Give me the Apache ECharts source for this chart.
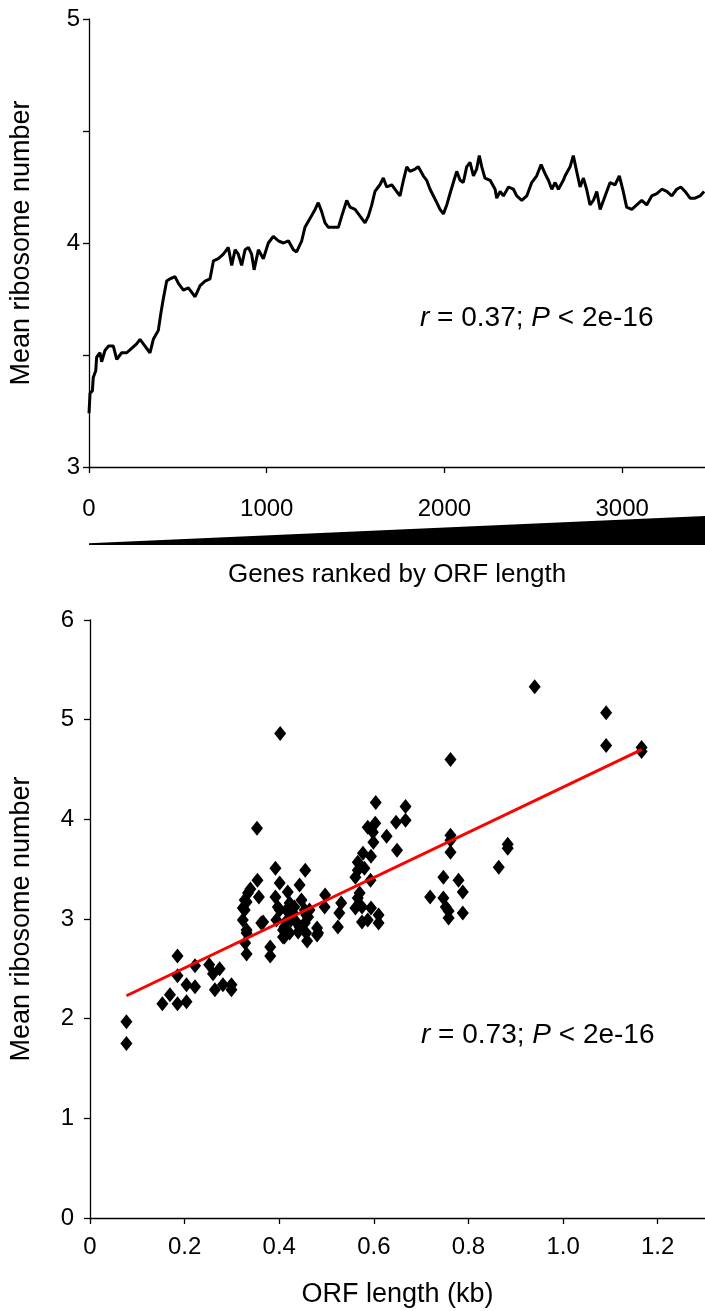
<!DOCTYPE html>
<html>
<head>
<meta charset="utf-8">
<script src="https://cdn.jsdelivr.net/npm/echarts@6/dist/echarts.min.js"></script>
<style>
html,body{margin:0;padding:0;background:#fff;}
#chart{width:705px;height:1311px;}
</style>
</head>
<body>
<div id="chart"></div>
<script>
// ---- Top panel: running mean ribosome number vs gene rank ----
const geneRank = [0,6,19,24,38,43,62,71,90,109,137,156,184,212,240,268,287,315,343,362,390,405,418,437,456,484,503,531,559,597,625,653,681,700,728,756,784,803,822,840,859,878,897,915,929,953,981,1009,1037,1065,1094,1122,1150,1168,1197,1215,1244,1272,1290,1309,1328,1347,1375,1403,1422,1450,1469,1497,1525,1553,1572,1591,1609,1637,1656,1675,1703,1731,1750,1769,1788,1806,1835,1853,1881,1900,1919,1938,1957,1975,1994,2013,2031,2050,2069,2088,2106,2125,2144,2163,2181,2196,2210,2228,2257,2285,2294,2313,2332,2360,2388,2407,2435,2463,2491,2519,2544,2566,2585,2604,2623,2641,2669,2679,2707,2725,2744,2763,2782,2800,2819,2838,2857,2876,2904,2932,2960,2984,3006,3025,3054,3082,3110,3138,3166,3195,3223,3251,3279,3307,3330,3354,3382,3410,3438,3461];
const meanRibo = [3.24,3.33,3.34,3.40,3.43,3.49,3.51,3.47,3.52,3.54,3.54,3.48,3.51,3.51,3.53,3.55,3.57,3.54,3.51,3.57,3.61,3.69,3.75,3.83,3.84,3.85,3.82,3.79,3.80,3.76,3.81,3.83,3.84,3.92,3.93,3.95,3.98,3.90,3.97,3.95,3.90,3.97,3.98,3.95,3.88,3.97,3.93,4.00,4.03,4.01,4.00,4.01,3.97,3.96,4.01,4.07,4.11,4.15,4.18,4.14,4.09,4.07,4.07,4.07,4.12,4.19,4.16,4.15,4.12,4.09,4.12,4.17,4.23,4.26,4.29,4.25,4.26,4.23,4.21,4.28,4.34,4.32,4.33,4.34,4.30,4.28,4.24,4.21,4.18,4.15,4.13,4.17,4.22,4.27,4.32,4.28,4.27,4.34,4.36,4.30,4.33,4.39,4.34,4.29,4.28,4.24,4.20,4.23,4.21,4.25,4.24,4.21,4.19,4.21,4.27,4.30,4.35,4.31,4.28,4.24,4.27,4.24,4.28,4.30,4.34,4.39,4.32,4.25,4.29,4.24,4.17,4.19,4.23,4.15,4.21,4.27,4.26,4.30,4.23,4.16,4.15,4.17,4.19,4.17,4.21,4.22,4.24,4.23,4.21,4.24,4.25,4.23,4.20,4.20,4.21,4.23];
const topXTicks = [0,1000,2000,3000];
const topYTicks = [3,4,5];
// wedge indicating increasing ORF length
const wedgeX = [0, 3466];
const wedgeY = [0.06, 1];

// ---- Bottom panel: scatter ORF length vs mean ribosome number ----
const orfLen = [0.077,0.077,0.185,0.185,0.169,0.153,0.185,0.204,0.204,0.222,0.222,0.252,0.260,0.274,0.264,0.281,0.299,0.299,
0.331,0.328,0.331,0.323,0.331,0.327,0.331,0.334,0.339,0.354,0.357,0.353,0.362,0.366,0.381,0.381,0.392,0.392,0.401,0.402,0.394,0.401,0.408,0.408,0.418,0.422,0.422,0.429,0.436,0.443,0.447,0.440,0.455,0.457,0.464,0.457,0.459,0.480,0.417,
0.497,0.531,0.496,0.527,0.397,0.415,0.432,0.454,0.327,0.323,0.411,0.425,0.443,0.461,0.411,0.480,0.524,
0.940,1.091,1.091,1.166,1.166,0.762,0.604,0.667,0.667,0.647,0.603,0.587,0.598,0.627,0.599,0.649,0.577,0.594,0.566,0.566,0.580,0.561,0.593,0.570,0.566,0.561,0.575,0.594,0.575,0.587,0.610,0.610,
0.457,0.454,0.482,0.762,0.762,0.762,0.747,0.779,0.788,0.719,0.747,0.752,0.758,0.758,0.788,0.864,0.883,0.883];
const ribo = [1.97,1.75,2.63,2.43,2.24,2.15,2.15,2.34,2.17,2.32,2.53,2.54,2.45,2.50,2.29,2.34,2.34,2.29,
2.65,2.76,2.86,2.99,2.89,3.09,3.17,3.26,3.30,3.39,3.22,3.91,2.96,2.97,2.72,2.63,3.51,3.22,3.36,4.86,2.99,3.09,2.89,2.82,3.27,3.16,2.86,3.06,2.97,3.34,3.19,2.87,3.49,3.06,3.09,2.86,2.78,2.91,2.99,
3.24,3.16,3.12,3.06,3.12,3.09,3.12,3.09,3.19,3.11,2.92,2.99,2.92,3.02,2.82,2.84,2.92,
5.33,5.07,4.74,4.72,4.68,4.60,4.17,4.13,3.99,3.97,3.96,3.92,3.87,3.83,3.77,3.69,3.66,3.63,3.57,3.49,3.51,3.42,3.39,3.26,3.21,3.11,3.12,3.11,2.97,2.99,3.04,2.96,
3.04,2.96,2.86,3.84,3.79,3.67,3.42,3.39,3.27,3.22,3.21,3.12,3.08,3.01,3.06,3.52,3.75,3.71];
const fitX = [0.077, 1.166];
const fitY = [2.23, 4.70];
const botXTicks = [0,0.2,0.4,0.6,0.8,1.0,1.2];

const FONT = 'Liberation Sans, Arial, sans-serif';
const axisLineStyle = {color:'#000', width:1.3};

const chart = echarts.init(document.getElementById('chart'), null, {renderer:'canvas'});
const zip = (a,b) => a.map((v,i)=>[v,b[i]]);

const option = {
  animation:false,
  backgroundColor:'#fff',
  grid:[
    {left:89, right:0, top:19, height:448},
    {left:89, right:0, top:516, height:29},
    {left:90, right:0, top:620, height:598}
  ],
  xAxis:[
    {gridIndex:0, type:'value', min:0, max:3466, interval:1000,
     axisLine:{show:true, onZero:false, lineStyle:axisLineStyle},
     axisTick:{show:true, length:6, lineStyle:axisLineStyle},
     axisLabel:{showMaxLabel:false, color:'#000', fontFamily:FONT, fontSize:24, margin:30,
       formatter:v=> topXTicks.includes(v) ? String(v) : ''},
     splitLine:{show:false}},
    {gridIndex:1, type:'value', min:0, max:3466,
     axisLine:{show:false}, axisTick:{show:false}, axisLabel:{show:false}, splitLine:{show:false},
     name:'Genes ranked by ORF length', nameLocation:'middle', nameGap:17,
     nameTextStyle:{color:'#000', fontFamily:FONT, fontSize:26}},
    {gridIndex:2, type:'value', min:0, max:1.3, interval:0.2,
     axisLine:{show:true, onZero:false, lineStyle:axisLineStyle},
     axisTick:{show:true, length:6, lineStyle:axisLineStyle},
     axisLabel:{showMaxLabel:false, color:'#000', fontFamily:FONT, fontSize:24, margin:17,
       formatter:v=>{ const t = botXTicks.find(k=>Math.abs(k-v)<1e-6); return t===undefined ? '' : (t===0 ? '0' : t.toFixed(1)); }},
     splitLine:{show:false},
     name:'ORF length (kb)', nameLocation:'middle', nameGap:63,
     nameTextStyle:{color:'#000', fontFamily:FONT, fontSize:27}}
  ],
  yAxis:[
    {gridIndex:0, type:'value', min:3, max:5, interval:0.5,
     axisLine:{show:true, onZero:false, lineStyle:axisLineStyle},
     axisTick:{show:true, length:6, lineStyle:axisLineStyle},
     axisLabel:{color:'#000', fontFamily:FONT, fontSize:24, margin:9,
       formatter:v=> topYTicks.includes(v) ? String(v) : ''},
     splitLine:{show:false},
     name:'Mean ribosome number', nameLocation:'middle', nameGap:54,
     nameTextStyle:{color:'#000', fontFamily:FONT, fontSize:27}},
    {gridIndex:1, type:'value', min:0, max:1, show:false},
    {gridIndex:2, type:'value', min:0, max:6, interval:1,
     axisLine:{show:true, onZero:false, lineStyle:axisLineStyle},
     axisTick:{show:true, length:6, lineStyle:axisLineStyle},
     axisLabel:{color:'#000', fontFamily:FONT, fontSize:24, margin:16},
     splitLine:{show:false},
     name:'Mean ribosome number', nameLocation:'middle', nameGap:55,
     nameTextStyle:{color:'#000', fontFamily:FONT, fontSize:27}}
  ],
  series:[
    {type:'line', xAxisIndex:0, yAxisIndex:0, data:zip(geneRank, meanRibo),
     showSymbol:false, lineStyle:{color:'#000', width:3}, z:3},
    {type:'line', xAxisIndex:1, yAxisIndex:1, data:zip(wedgeX, wedgeY),
     showSymbol:false, lineStyle:{width:0, color:'#000'}, areaStyle:{color:'#000', opacity:1}},
    {type:'scatter', xAxisIndex:2, yAxisIndex:2, data:zip(orfLen, ribo),
     symbol:'diamond', symbolSize:[12,15], itemStyle:{color:'#000', opacity:1}, z:3},
    {type:'line', xAxisIndex:2, yAxisIndex:2, data:zip(fitX, fitY),
     showSymbol:false, lineStyle:{color:'#ff0000', width:3}, z:4}
  ],
  graphic:[
    {type:'text', left:420, top:304,
     style:{text:'{i|r} = 0.37; {i|P} < 2e-16', font:'28px Liberation Sans, Arial, sans-serif', fill:'#000',
       rich:{i:{fontStyle:'italic', fontFamily:FONT, fontSize:28, fill:'#000'}}}},
    {type:'text', left:421, top:1021,
     style:{text:'{i|r} = 0.73; {i|P} < 2e-16', font:'28px Liberation Sans, Arial, sans-serif', fill:'#000',
       rich:{i:{fontStyle:'italic', fontFamily:FONT, fontSize:28, fill:'#000'}}}}
  ]
};
chart.setOption(option);
</script>
</body>
</html>
